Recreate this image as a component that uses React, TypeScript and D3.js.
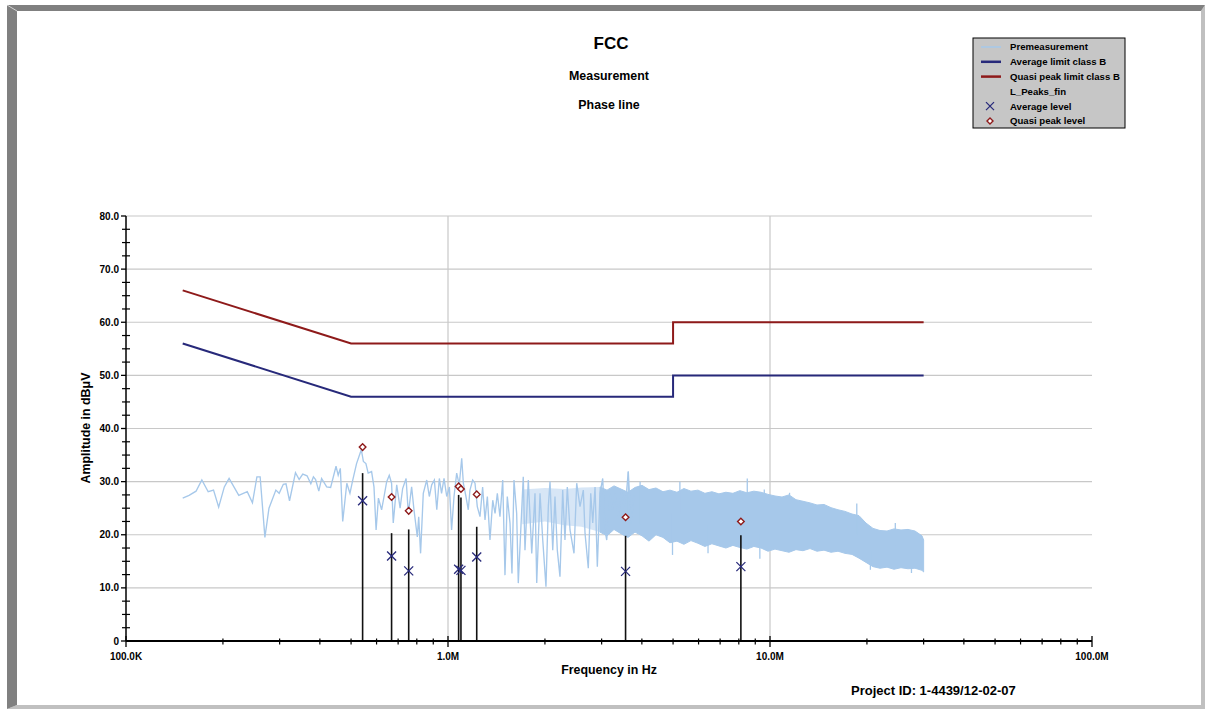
import React from "react";
import * as d3 from "d3";

// ---------- DATA ----------
// Premeasurement (sparse part), [frequency kHz, dBµV]
const premPoints: [number, number][] = [
  [150, 26.9], [157, 27.4], [165, 28.2], [172, 30.3], [180, 28.1], [187, 28.4], [194, 25.2], [202, 29.0],
  [209, 30.6], [224, 27.4], [238, 28.1], [247, 26.0], [255, 30.9], [261, 30.9], [270, 19.5], [278, 25.0],
  [292, 28.4], [299, 27.8], [308, 29.5], [314, 29.6], [322, 26.4], [336, 31.7], [345, 30.4], [354, 31.4],
  [365, 31.1], [375, 29.6], [382, 30.9], [388, 30.4], [397, 28.2], [405, 30.6], [420, 29.0], [432, 28.9],
  [449, 32.9], [456, 31.2], [463, 32.5], [471, 22.5], [485, 29.7], [496, 27.8], [506, 30.3], [520, 33.4],
  [533, 35.3], [538, 36.0], [546, 33.8], [556, 33.4], [565, 31.6], [579, 31.9], [589, 29.0], [598, 20.9],
  [608, 26.9], [622, 24.7], [633, 27.2], [645, 30.0], [657, 31.2], [668, 29.7], [676, 22.2], [693, 29.4],
  [710, 25.0], [723, 28.7], [741, 30.6], [753, 24.0], [771, 29.0], [784, 24.7], [803, 19.6], [811, 23.4],
  [822, 16.5], [838, 27.8], [859, 30.3], [875, 27.2], [890, 29.4], [907, 30.3], [923, 24.7], [940, 30.6],
  [955, 27.8], [972, 30.6], [991, 27.2], [1010, 29.0], [1026, 20.9], [1044, 27.2], [1064, 31.6], [1084, 29.4],
  [1103, 34.4], [1116, 29.7], [1137, 27.2], [1156, 24.7], [1170, 28.4], [1193, 30.3], [1213, 29.7], [1233, 25.3],
  [1257, 23.4], [1281, 29.0], [1303, 22.8], [1325, 27.2], [1350, 19.0], [1377, 26.5], [1400, 24.0], [1423, 27.8],
  [1450, 23.4], [1479, 30.3], [1503, 12.4], [1528, 27.2], [1558, 22.2], [1580, 12.7], [1603, 30.3], [1634, 24.0],
  [1653, 10.9], [1713, 30.9], [1734, 17.1], [1776, 30.3], [1820, 16.5], [1863, 27.8], [1886, 10.9], [1931, 27.8],
  [1969, 19.0], [2015, 10.2], [2049, 25.3], [2074, 30.0], [2115, 17.1], [2149, 27.2], [2185, 17.1], [2227, 12.1],
  [2271, 28.4], [2308, 19.0], [2347, 29.0], [2393, 20.9], [2462, 16.5], [2510, 29.7], [2570, 25.3], [2632, 28.4],
  [2664, 20.3], [2727, 13.7], [2775, 27.8], [2815, 22.2], [2862, 29.0], [2909, 14.0], [2965, 27.8], [3023, 30.6],
  [3073, 20.9], [3111, 19.0], [3185, 27.8], [3247, 24.7], [3301, 27.8], [3380, 23.4], [3463, 28.4], [3521, 25.3],
  [3589, 28.4], [3630, 31.9], [3700, 22.0], [3780, 27.5],
];

// Premeasurement, partly filled transition band (kHz)
const thinBandFreq = [1700, 2000, 2300, 2600, 2960];
const thinBandUpper = [28.5, 28.8, 28.6, 28.9, 29.0];
const thinBandLower = [22.0, 22.5, 21.8, 21.5, 20.5];

// Premeasurement dense band (envelope), frequency kHz
const bandFreq = [
  2965, 3118, 3278, 3446, 3623, 3808, 4004, 4209, 4425, 4652, 4890, 5141, 5404, 5682, 5973, 6279,
  6601, 6940, 7296, 7670, 8063, 8477, 8911, 9377, 9858, 10363, 10896, 11455, 12041, 12661, 13311, 13996,
  14713, 15467, 16263, 17097, 17977, 18897, 19865, 20889, 21958, 23088, 24270, 25513, 26827, 28201, 29648, 30000,
];
const bandUpper = [
  29.0, 28.4, 29.2, 28.6, 28.0, 28.9, 29.3, 28.5, 28.8, 28.1, 28.4, 28.0, 28.7, 28.2, 28.4, 27.8,
  28.1, 27.7, 28.0, 27.8, 28.3, 27.9, 28.2, 28.0, 27.6, 27.3, 27.1, 27.5, 26.6, 26.3, 26.0, 25.6,
  25.7, 25.1, 24.7, 24.4, 23.9, 23.6, 22.2, 21.2, 20.8, 20.7, 21.1, 20.9, 21.0, 20.7, 19.8, 19.0,
];
const bandLower = [
  20.5, 19.8, 21.0, 20.2, 19.5, 20.5, 19.8, 18.8, 20.0, 19.5, 18.5, 18.8, 18.2, 18.9, 18.4, 17.8,
  18.3, 17.9, 17.5, 18.0, 17.6, 17.3, 17.8, 17.5, 16.9, 17.3, 17.0, 16.7, 17.2, 17.0, 17.4, 16.9,
  17.1, 16.7, 16.9, 16.5, 16.3, 15.6, 14.8, 14.0, 13.7, 13.9, 13.5, 13.8, 13.6, 13.7, 13.3, 13.0,
];

// Premeasurement isolated spikes: [kHz, low dB, high dB]
const bandSpikes: [number, number, number][] = [
  [3630, 24.0, 31.9], [3950, 22.0, 30.0], [4980, 16.2, 24.0], [5250, 24.0, 30.0], [6420, 16.5, 22.0],
  [8500, 24.0, 30.6], [9300, 15.5, 20.0], [9600, 24.0, 28.5], [11500, 23.0, 27.9], [18600, 20.0, 25.9],
  [20500, 13.4, 17.0], [24500, 18.0, 22.2], [27500, 12.8, 16.0],
];

// Limits (kHz, dBµV)
const avgLimit: [number, number][] = [[150, 56], [500, 46], [5000, 46], [5000, 50], [30000, 50]];
const qpLimit: [number, number][] = [[150, 66], [500, 56], [5000, 56], [5000, 60], [30000, 60]];

// Final measurement peaks
const peakFreq = [543, 668, 755, 1079, 1097, 1228, 3560, 8120];
const peakStem = [31.6, 20.3, 21.0, 27.5, 27.0, 21.5, 19.8, 19.9];
const qpLevel = [36.5, 27.1, 24.5, 29.1, 28.6, 27.6, 23.3, 22.5];
const avgLevel = [26.4, 16.0, 13.2, 13.5, 13.3, 15.8, 13.1, 14.0];

// Axis ticks
const yMajor = [0, 10, 20, 30, 40, 50, 60, 70, 80];
const yLabels = ["0", "10.0", "20.0", "30.0", "40.0", "50.0", "60.0", "70.0", "80.0"];
const xMajor = [100, 1000, 10000, 100000];
const xLabels = ["100.0K", "1.0M", "10.0M", "100.0M"];

const legendItems = [
  "Premeasurement",
  "Average limit class B",
  "Quasi peak limit class B",
  "L_Peaks_fin",
  "Average level",
  "Quasi peak level",
];

// ---------- STYLE ----------
const FONT = "'Liberation Sans', Arial, Helvetica, sans-serif";
const PREM = "#a6c8ea";
const NAVY = "#27297a";
const DRED = "#8e1a1a";
const GRID = "#c8c8c8";

export default function App() {
  const W = 1205, H = 709;
  const x = d3.scaleLog().domain([100, 100000]).range([126, 1092]);
  const y = d3.scaleLinear().domain([0, 80]).range([641, 216]);

  const line = d3.line<[number, number]>().x((d) => x(d[0])).y((d) => y(d[1]));
  const band = d3
    .area<number>()
    .x((_, i) => x(bandFreq[i]))
    .y0((_, i) => y(bandLower[i]))
    .y1((_, i) => y(bandUpper[i]));
  const thinBand = d3
    .area<number>()
    .x((_, i) => x(thinBandFreq[i]))
    .y0((_, i) => y(thinBandLower[i]))
    .y1((_, i) => y(thinBandUpper[i]));

  const yMinor = d3.range(0, 80.01, 2.5).filter((v) => v % 10 !== 0);
  const xMinor: number[] = [];
  [100, 1000, 10000].forEach((dec) => {
    for (let k = 2; k <= 9; k++) xMinor.push(dec * k);
  });

  const lx = 973, ly = 38;

  return (
    <svg width={W} height={H} style={{ position: "absolute", left: 0, top: 0, background: "#fff" }} fontFamily={FONT}>
      <rect x={0} y={0} width={W} height={H} fill="#fff" />
      {/* frame */}
      <polygon points="1205,5 1205,709 7,709 17,705 1201,705 1201,11" fill="#c0c0c0" />
      <polygon points="7,5 1205,5 1201,11 17,11 17,705 7,709" fill="#808080" />
      <line x1={7} y1={5} x2={17} y2={11} stroke="#e8e8e8" strokeWidth={0.8} />

      {/* titles */}
      <text x={611} y={49} textAnchor="middle" fontSize={17} fontWeight="bold">FCC</text>
      <text x={609} y={80} textAnchor="middle" fontSize={12.4} fontWeight="bold">Measurement</text>
      <text x={609} y={109} textAnchor="middle" fontSize={12.4} fontWeight="bold">Phase line</text>

      {/* grid */}
      {yMajor.filter((v) => v > 0).map((v) => (
        <line key={"gy" + v} x1={126} x2={1092} y1={y(v)} y2={y(v)} stroke={GRID} strokeWidth={1.2} />
      ))}
      {[1000, 10000].map((f) => (
        <line key={"gx" + f} x1={x(f)} x2={x(f)} y1={216} y2={641} stroke={GRID} strokeWidth={1.2} />
      ))}

      {/* premeasurement */}
      <path d={thinBand(thinBandFreq) || ""} fill={PREM} fillOpacity={0.45} stroke="none" />
      <path d={band(bandFreq) || ""} fill={PREM} stroke={PREM} strokeWidth={1} strokeLinejoin="miter" />
      {bandSpikes.map((s, i) => (
        <line key={"sp" + i} x1={x(s[0])} x2={x(s[0])} y1={y(s[1])} y2={y(s[2])} stroke={PREM} strokeWidth={1.3} />
      ))}
      <path d={line(premPoints) || ""} fill="none" stroke={PREM} strokeWidth={1.35} />

      {/* limits */}
      <path d={line(avgLimit) || ""} fill="none" stroke={NAVY} strokeWidth={2} />
      <path d={line(qpLimit) || ""} fill="none" stroke={DRED} strokeWidth={2} />

      {/* stems */}
      {peakFreq.map((f, i) => (
        <line key={"st" + i} x1={x(f)} x2={x(f)} y1={y(0)} y2={y(peakStem[i])} stroke="#111" strokeWidth={1.6} />
      ))}

      {/* average markers */}
      {peakFreq.map((f, i) => {
        const cx = x(f), cy = y(avgLevel[i]), r = 4.5;
        return (
          <g key={"av" + i} stroke={NAVY} strokeWidth={1.3}>
            <line x1={cx - r} y1={cy - r} x2={cx + r} y2={cy + r} />
            <line x1={cx - r} y1={cy + r} x2={cx + r} y2={cy - r} />
          </g>
        );
      })}
      {/* QP markers */}
      {peakFreq.map((f, i) => {
        const cx = x(f), cy = y(qpLevel[i]), r = 3.3;
        return (
          <polygon key={"qp" + i}
            points={`${cx},${cy - r} ${cx + r},${cy} ${cx},${cy + r} ${cx - r},${cy}`}
            fill="#fff" stroke={DRED} strokeWidth={1.4} />
        );
      })}

      {/* y axis */}
      <line x1={126} x2={126} y1={216} y2={641} stroke="#000" strokeWidth={1.5} />
      {yMajor.map((v, i) => (
        <g key={"yt" + v}>
          <line x1={121} x2={126} y1={y(v)} y2={y(v)} stroke="#000" strokeWidth={1.3} />
          <text x={119} y={y(v)} dy="0.35em" textAnchor="end" fontSize={10} fontWeight="bold">{yLabels[i]}</text>
        </g>
      ))}
      {yMinor.map((v) => (
        <line key={"ym" + v} x1={122} x2={130} y1={y(v)} y2={y(v)} stroke="#000" strokeWidth={1.2} />
      ))}

      {/* x axis */}
      <line x1={126} x2={1092} y1={641} y2={641} stroke="#000" strokeWidth={2} />
      {xMajor.map((f, i) => (
        <g key={"xt" + f}>
          <line x1={x(f)} x2={x(f)} y1={636} y2={647} stroke="#000" strokeWidth={1.3} />
          <text x={x(f)} y={660} textAnchor="middle" fontSize={10} fontWeight="bold">{xLabels[i]}</text>
        </g>
      ))}
      {xMinor.map((f) => (
        <line key={"xm" + f} x1={x(f)} x2={x(f)} y1={638.5} y2={644.5} stroke="#000" strokeWidth={1.2} />
      ))}

      {/* axis titles */}
      <text x={609} y={674} textAnchor="middle" fontSize={12.4} fontWeight="bold">Frequency in Hz</text>
      <text transform="translate(90,428) rotate(-90)" textAnchor="middle" fontSize={12.4} fontWeight="bold">Amplitude in dBμV</text>
      <text x={851} y={695} fontSize={13} fontWeight="bold">Project ID: 1-4439/12-02-07</text>

      {/* legend */}
      <rect x={lx} y={ly} width={152} height={90} fill="#c6c6c6" stroke="#000" strokeWidth={1} />
      {legendItems.map((t, i) => {
        const cy = ly + 9 + i * 14.8;
        let sym: React.ReactNode = null;
        if (i === 0) sym = <line x1={981} x2={1001} y1={cy} y2={cy} stroke={PREM} strokeWidth={1.5} />;
        if (i === 1) sym = <line x1={981} x2={1001} y1={cy} y2={cy} stroke={NAVY} strokeWidth={2.5} />;
        if (i === 2) sym = <line x1={981} x2={1001} y1={cy} y2={cy} stroke={DRED} strokeWidth={2.5} />;
        if (i === 4)
          sym = (
            <g stroke={NAVY} strokeWidth={1.2}>
              <line x1={986} y1={cy - 4} x2={994} y2={cy + 4} />
              <line x1={986} y1={cy + 4} x2={994} y2={cy - 4} />
            </g>
          );
        if (i === 5)
          sym = <polygon points={`990,${cy - 3} 993,${cy} 990,${cy + 3} 987,${cy}`} fill="#fff" stroke={DRED} strokeWidth={1.4} />;
        return (
          <g key={"lg" + i}>
            {sym}
            <text x={1010} y={cy} dy="0.35em" fontSize={9.6} fontWeight="bold">{t}</text>
          </g>
        );
      })}
    </svg>
  );
}
